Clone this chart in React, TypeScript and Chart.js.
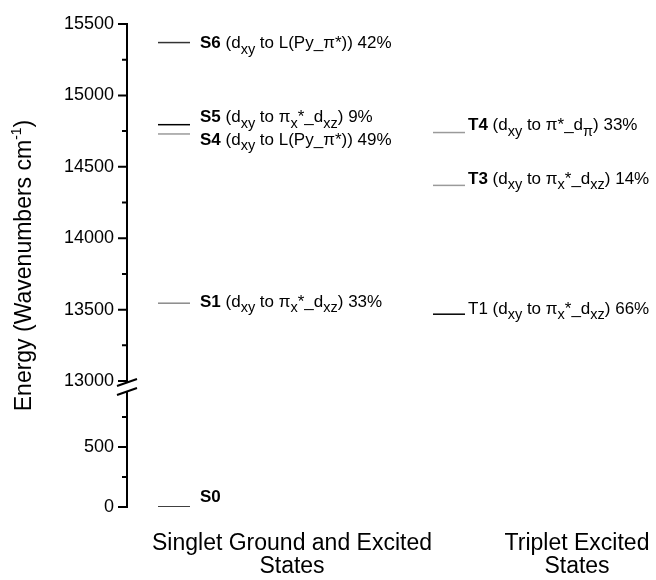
import React, { useEffect, useRef } from 'react';
import { Chart, registerables } from 'chart.js';

Chart.register(...registerables);

// ---------- data ----------
const categories: string[][] = [
  ['Singlet Ground and Excited', 'States'],
  ['Triplet Excited', 'States'],
];
const levelNames = ['S0', 'S1', 'S4', 'S5', 'S6', 'T1', 'T3', 'T4'];
const levelCategory = [0, 0, 0, 0, 0, 1, 1, 1];
const levelEnergies = [0, 13545, 14730, 14795, 15370, 13468, 14370, 14740];

type Seg = [string, string?];
const levelLabels: Seg[][] = [
  [['S0', 'b']],
  [['S1', 'b'], [' (d'], ['xy', 'sub'], [' to π'], ['x', 'sub'], ['*_d'], ['xz', 'sub'], [') 33%']],
  [['S4', 'b'], [' (d'], ['xy', 'sub'], [' to L(Py_π*)) 49%']],
  [['S5', 'b'], [' (d'], ['xy', 'sub'], [' to π'], ['x', 'sub'], ['*_d'], ['xz', 'sub'], [') 9%']],
  [['S6', 'b'], [' (d'], ['xy', 'sub'], [' to L(Py_π*)) 42%']],
  [['T1'], [' (d'], ['xy', 'sub'], [' to π'], ['x', 'sub'], ['*_d'], ['xz', 'sub'], [') 66%']],
  [['T3', 'b'], [' (d'], ['xy', 'sub'], [' to π'], ['x', 'sub'], ['*_d'], ['xz', 'sub'], [') 14%']],
  [['T4', 'b'], [' (d'], ['xy', 'sub'], [' to π*_d'], ['π', 'sub'], [') 33%']],
];

const yMajorTicks = [0, 500, 13000, 13500, 14000, 14500, 15000, 15500];
const yMinorTicks = [250, 750, 13250, 13750, 14250, 14750, 15250];

// ---------- styles / layout ----------
const FONT = '"Liberation Sans", Arial, Helvetica, sans-serif';
const levelColors = ['#000000', '#8a8a8a', '#9a9a9a', '#000000', '#333333', '#000000', '#9a9a9a', '#9a9a9a'];
const labelDy = [-10, -1, 6, -7, 1, -5, -6, -7];
const LEVEL_X = [47, 322];
const LEVEL_HALF = 16;
const LABEL_X = [73, 341];
const CAT_X = [165, 450];
const X_MAX = 529;

// broken axis: lower segment 0..1000, upper segment 13000..15500
const LOWER_MAX = 1000;
const UPPER_MIN = 13000;
const UPPER_MAX = 15500;
const LOWER_SCALE = 0.84;
const UPPER_OFFSET = 882;
const toAxis = (v: number) => (v <= LOWER_MAX ? v * LOWER_SCALE : UPPER_OFFSET + (v - UPPER_MIN));

const axisPlugin = {
  id: 'brokenAxis',
  afterDraw(chart: any) {
    const ctx = chart.ctx;
    const y = chart.scales.y;
    const left = chart.chartArea.left;
    const topPx = y.getPixelForValue(toAxis(UPPER_MAX));
    const breakTop = y.getPixelForValue(toAxis(UPPER_MIN));
    const bottomPx = y.getPixelForValue(toAxis(0));
    const s1 = breakTop + 1.5;
    const s2 = s1 + 9;
    ctx.save();
    ctx.strokeStyle = '#000';
    ctx.lineWidth = 2;
    ctx.lineCap = 'butt';
    ctx.beginPath();
    ctx.moveTo(left, topPx - 1);
    ctx.lineTo(left, s1);
    ctx.moveTo(left, s2);
    ctx.lineTo(left, bottomPx + 1);
    ctx.stroke();
    // ticks
    ctx.beginPath();
    yMajorTicks.forEach((v) => {
      const p = y.getPixelForValue(toAxis(v));
      ctx.moveTo(left - 9, p);
      ctx.lineTo(left, p);
    });
    yMinorTicks.forEach((v) => {
      const p = y.getPixelForValue(toAxis(v));
      ctx.moveTo(left - 5, p);
      ctx.lineTo(left, p);
    });
    ctx.stroke();
    // break slashes
    ctx.beginPath();
    [s1, s2].forEach((s) => {
      ctx.moveTo(left - 10, s + 3.5);
      ctx.lineTo(left + 10, s - 3.5);
    });
    ctx.stroke();

    // y title with superscript
    const cy = (chart.chartArea.top + chart.chartArea.bottom) / 2;
    const tx = 25;
    ctx.translate(tx, cy);
    ctx.rotate(-Math.PI / 2);
    ctx.fillStyle = '#000';
    ctx.textBaseline = 'middle';
    ctx.textAlign = 'left';
    const mainFont = `23px ${FONT}`;
    const supFont = `14px ${FONT}`;
    const parts: [string, string, number][] = [
      ['Energy (Wavenumbers cm', mainFont, 0],
      ['-1', supFont, -8],
      [')', mainFont, 0],
    ];
    let total = 0;
    parts.forEach(([t, f]) => {
      ctx.font = f;
      total += ctx.measureText(t).width;
    });
    let x = -total / 2;
    parts.forEach(([t, f, dy]) => {
      ctx.font = f;
      ctx.fillText(t, x, dy);
      x += ctx.measureText(t).width;
    });
    ctx.restore();
  },
};

const labelPlugin = {
  id: 'levelLabels',
  afterDatasetsDraw(chart: any) {
    const ctx = chart.ctx;
    const xs = chart.scales.x;
    const ys = chart.scales.y;
    ctx.save();
    ctx.fillStyle = '#000';
    ctx.textAlign = 'left';
    ctx.textBaseline = 'middle';
    levelLabels.forEach((segs, i) => {
      let x = xs.getPixelForValue(LABEL_X[levelCategory[i]]);
      const yc = ys.getPixelForValue(toAxis(levelEnergies[i])) + labelDy[i];
      segs.forEach(([t, kind]) => {
        let dy = 0;
        if (kind === 'b') ctx.font = `bold 17px ${FONT}`;
        else if (kind === 'sub') {
          ctx.font = `14.5px ${FONT}`;
          dy = 6;
        } else ctx.font = `17px ${FONT}`;
        ctx.fillText(t, x, yc + dy);
        x += ctx.measureText(t).width;
      });
    });
    ctx.restore();
  },
};

export default function App() {
  const ref = useRef<HTMLCanvasElement | null>(null);
  useEffect(() => {
    document.body.style.margin = '0';
    const canvas = ref.current;
    if (!canvas) return;
    const chart = new Chart(canvas, {
      type: 'line',
      data: {
        datasets: levelEnergies.map((e, i) => ({
          label: levelNames[i],
          data: [
            { x: LEVEL_X[levelCategory[i]] - LEVEL_HALF, y: toAxis(e) },
            { x: LEVEL_X[levelCategory[i]] + LEVEL_HALF, y: toAxis(e) },
          ],
          borderColor: levelColors[i],
          borderWidth: 1.5,
          pointRadius: 0,
          fill: false,
        })),
      },
      options: {
        animation: false,
        responsive: false,
        devicePixelRatio: 1,
        layout: { padding: { top: 24, left: 0, right: 0, bottom: 0 } },
        plugins: {
          legend: { display: false },
          tooltip: { enabled: false },
          title: { display: false },
        },
        scales: {
          x: {
            type: 'linear',
            min: 0,
            max: X_MAX,
            grid: { display: false, drawTicks: false },
            border: { display: false },
            afterBuildTicks: (s: any) => {
              s.ticks = CAT_X.map((v) => ({ value: v }));
            },
            afterFit: (s: any) => {
              s.height = 73;
              s.paddingLeft = 0;
              s.paddingRight = 0;
            },
            ticks: {
              callback: (_v: any, i: number) => categories[i],
              font: { size: 23, family: FONT, lineHeight: 1.0 },
              color: '#000',
              padding: 25,
              maxRotation: 0,
              autoSkip: false,
            },
          },
          y: {
            type: 'linear',
            min: 0,
            max: toAxis(UPPER_MAX),
            afterBuildTicks: (s: any) => {
              s.ticks = [...yMajorTicks, ...yMinorTicks]
                .map((v) => toAxis(v))
                .sort((a, b) => a - b)
                .map((v) => ({ value: v }));
            },
            afterFit: (s: any) => {
              s.width = 127;
              s.paddingTop = 0;
              s.paddingBottom = 0;
            },
            grid: { display: true, drawOnChartArea: false, color: 'rgba(0,0,0,0)', tickLength: 9 },
            border: { display: false },
            ticks: {
              callback: (v: any) => {
                const m = yMajorTicks.find((t) => Math.abs(toAxis(t) - v) < 0.01);
                return m === undefined ? '' : String(m);
              },
              font: { size: 18, family: FONT },
              color: '#000',
              padding: 4,
              autoSkip: false,
            },
          },
        },
      } as any,
      plugins: [axisPlugin, labelPlugin],
    });
    return () => chart.destroy();
  }, []);
  return (
    <div style={{ width: 656, height: 580 }}>
      <canvas ref={ref} width={656} height={580} style={{ display: 'block' }} />
    </div>
  );
}
